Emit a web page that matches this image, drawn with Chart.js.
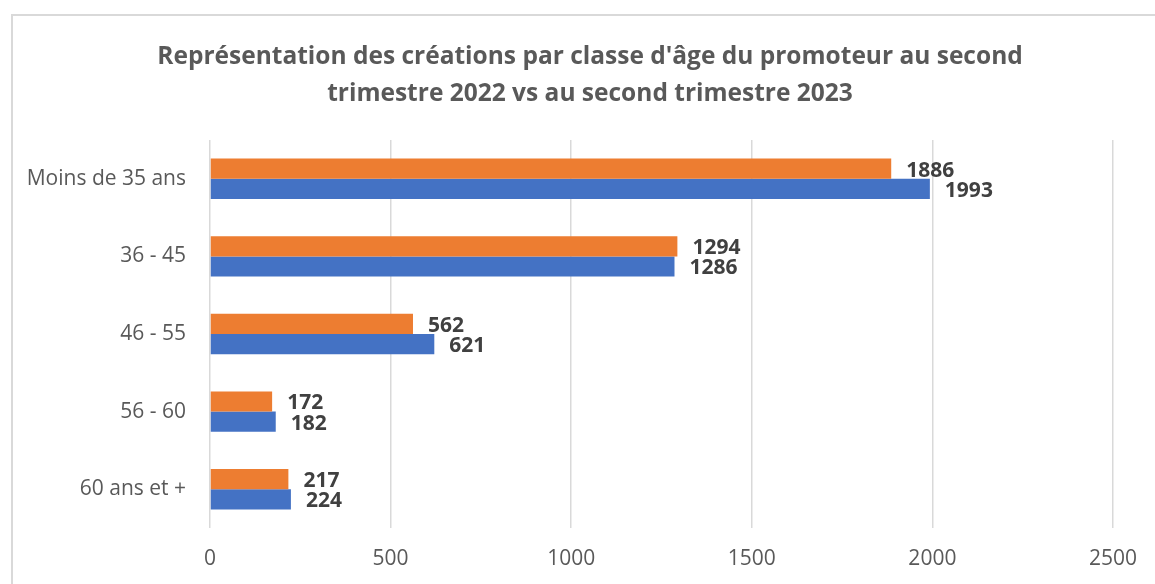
<!DOCTYPE html>
<html lang="fr">
<head>
<meta charset="UTF-8">
<title>Créations par classe d'âge</title>
<script src="https://cdn.jsdelivr.net/npm/chart.js"></script>
<style>
  body { margin: 0; background: #fff; overflow: hidden; }
  #frame { position: absolute; left: 11px; top: 14px; width: 1170px; height: 600px; border: 2px solid #d9d9d9; }
  #chart { position: absolute; left: 0; top: 0; }
</style>
</head>
<body>
<div id="frame"></div>
<canvas id="chart" width="1155" height="584"></canvas>
<script>
  const categories = ['Moins de 35 ans', '36 - 45', '46 - 55', '56 - 60', '60 ans et +'];
  const values2022 = [1886, 1294, 562, 172, 217];
  const values2023 = [1993, 1286, 621, 182, 224];
  const xTicks = [0, 500, 1000, 1500, 2000, 2500];
  const titleLines = ["Représentation des créations par classe d'âge du promoteur au second",
                      'trimestre 2022 vs au second trimestre 2023'];

  const FONT = "'Open Sans', sans-serif";

  // titre centré sur le cadre (et non sur le canvas)
  const frameTitle = {
    id: 'frameTitle',
    afterDraw(chart) {
      const ctx = chart.ctx;
      ctx.save();
      ctx.font = 'bold 24.5px ' + FONT;
      ctx.fillStyle = '#595959';
      ctx.textAlign = 'center';
      ctx.textBaseline = 'middle';
      titleLines.forEach((line, i) => ctx.fillText(line, 590, 57 + i * 37));
      ctx.restore();
    }
  };

  // valeurs affichées à droite des barres
  const valueLabels = {
    id: 'valueLabels',
    afterDatasetsDraw(chart) {
      const ctx = chart.ctx;
      ctx.save();
      ctx.font = 'bold 21px ' + FONT;
      ctx.fillStyle = '#404040';
      ctx.textBaseline = 'middle';
      ctx.textAlign = 'left';
      chart.data.datasets.forEach((ds, i) => {
        chart.getDatasetMeta(i).data.forEach((bar, j) => {
          ctx.fillText(String(ds.data[j]), bar.x + 15, bar.y + 2);
        });
      });
      ctx.restore();
    }
  };

  new Chart(document.getElementById('chart'), {
    type: 'bar',
    data: {
      labels: categories,
      datasets: [
        { label: '2022', data: values2022, backgroundColor: '#ED7D31', categoryPercentage: 0.52, barPercentage: 1 },
        { label: '2023', data: values2023, backgroundColor: '#4472C4', categoryPercentage: 0.52, barPercentage: 1 }
      ]
    },
    options: {
      indexAxis: 'y',
      responsive: false,
      animation: false,
      layout: { padding: { left: 0, right: 15, top: 140, bottom: 0 } },
      plugins: {
        legend: { display: false },
        tooltip: { enabled: false },
        title: { display: false }
      },
      scales: {
        x: {
          min: 0,
          max: 2500,
          afterBuildTicks: (scale) => { scale.ticks = xTicks.map(v => ({ value: v })); },
          afterFit: (scale) => { scale.height = 56; },
          grid: { color: '#d9d9d9', lineWidth: 1.5, drawTicks: false },
          border: { display: false },
          ticks: {
            color: '#595959',
            font: { family: FONT, size: 21 },
            padding: 18,
            callback: (v) => String(v)
          }
        },
        y: {
          grid: { display: false },
          border: { display: false },
          ticks: { color: '#595959', font: { family: FONT, size: 21 }, padding: 16 },
          afterFit: (scale) => { scale.width = 210; }
        }
      }
    },
    plugins: [valueLabels, frameTitle]
  });
</script>
</body>
</html>
